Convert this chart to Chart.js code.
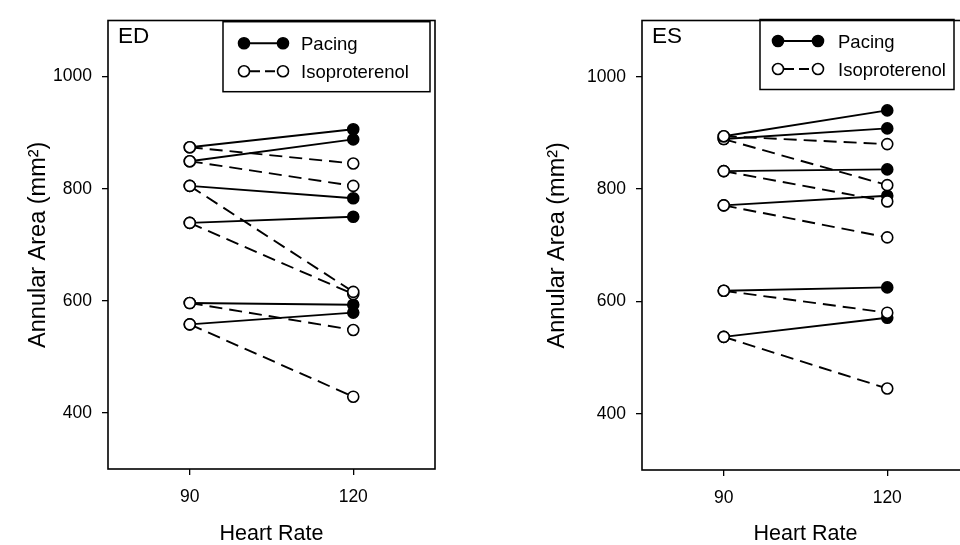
<!DOCTYPE html>
<html>
<head>
<meta charset="utf-8">
<title>Annular area vs heart rate</title>
<script src="https://cdn.jsdelivr.net/npm/chart.js@4.4.1/dist/chart.umd.min.js"></script>
<style>
  html, body { margin: 0; padding: 0; background: #fff; overflow: hidden; }
  body { width: 960px; height: 545px; position: relative; }
  canvas { position: absolute; top: 0; }
  #ed-chart { left: 0; }
  #es-chart { left: 480px; }
</style>
</head>
<body>
<canvas id="ed-chart" width="480" height="545"></canvas>
<canvas id="es-chart" width="500" height="545"></canvas>
<script>
// Heart rate categories and axis ticks
const heartRates = [90, 120];
const xTicks = [90, 120];
const yTicks = [400, 600, 800, 1000];

// ED panel - annular area (mm2), one entry per subject
const edBaseline = [874, 849, 805, 739, 596, 558];
const edPacing = [906, 888, 783, 750, 593, 579];
const edIso = [845, 805, 616, 612, 548, 429];

// ES panel
const esBaseline = [894, 889, 832, 771, 619, 537];
const esPacing = [940, 908, 835, 788, 625, 571];
const esIso = [880, 807, 778, 714, 580, 445];

const FONT = '"Liberation Sans", Arial, Helvetica, sans-serif';

// one iso (dashed) and one pacing (solid) line per subject
function buildDatasets(baseline, pacing, iso) {
  const sets = [];
  baseline.forEach((b, i) => {
    sets.push({
      label: 'Isoproterenol',
      data: [{ x: heartRates[0], y: b }, { x: heartRates[1], y: iso[i] }],
      borderColor: '#000',
      borderWidth: 1.9,
      borderDash: [13, 7],
      pointRadius: 5.5,
      pointBorderWidth: 1.6,
      pointBorderColor: '#000',
      pointBackgroundColor: ['#fff', '#fff']
    });
    sets.push({
      label: 'Pacing',
      data: [{ x: heartRates[0], y: b }, { x: heartRates[1], y: pacing[i] }],
      borderColor: '#000',
      borderWidth: 1.9,
      pointRadius: 5.5,
      pointBorderWidth: 1.6,
      pointBorderColor: '#000',
      pointBackgroundColor: ['#fff', '#000']
    });
  });
  return sets;
}

// frame, panel label and legend box
const panelDecor = {
  id: 'panelDecor',
  afterDraw(chart, args, opts) {
    const { ctx, chartArea: a } = chart;
    ctx.save();
    ctx.strokeStyle = '#000';
    ctx.fillStyle = '#000';
    ctx.lineWidth = 1.6;
    ctx.strokeRect(a.left, a.top, a.right - a.left, a.bottom - a.top);

    ctx.font = '22.5px ' + FONT;
    ctx.textBaseline = 'alphabetic';
    ctx.fillText(opts.label, a.left + 10, 43);

    const bx = a.left + opts.boxDx, by = opts.boxY, bw = opts.boxW, bh = 70;
    ctx.lineWidth = 1.5;
    ctx.strokeRect(bx, by, bw, bh);

    const rows = [
      { text: 'Pacing', y: by + 21.5, fill: '#000', dash: [] },
      { text: 'Isoproterenol', y: by + 49.5, fill: '#fff', dash: [10, 5] }
    ];
    rows.forEach(r => {
      const x1 = bx + opts.symX1, x2 = bx + opts.symX2;
      ctx.lineWidth = 1.9;
      ctx.setLineDash(r.dash);
      ctx.lineDashOffset = -6;
      ctx.beginPath();
      ctx.moveTo(x1, r.y);
      ctx.lineTo(x2, r.y);
      ctx.stroke();
      ctx.setLineDash([]);
      ctx.lineWidth = 1.6;
      [x1, x2].forEach(x => {
        ctx.beginPath();
        ctx.arc(x, r.y, 5.5, 0, Math.PI * 2);
        ctx.fillStyle = r.fill;
        ctx.fill();
        ctx.stroke();
      });
      ctx.fillStyle = '#000';
      ctx.font = '18.5px ' + FONT;
      ctx.fillText(r.text, bx + opts.textX, r.y + 7);
    });
    ctx.restore();
  }
};

function makeChart(id, datasets, layout) {
  return new Chart(document.getElementById(id), {
    type: 'line',
    data: { datasets },
    options: {
      responsive: false,
      animation: false,
      devicePixelRatio: 1,
      layout: { padding: { left: 0, top: layout.top, right: layout.right, bottom: 0 } },
      plugins: {
        legend: { display: false },
        tooltip: { enabled: false },
        panelDecor: layout.decor
      },
      scales: {
        x: {
          type: 'linear',
          min: 75,
          max: 135,
          afterBuildTicks: s => { s.ticks = xTicks.map(v => ({ value: v })); },
          afterFit: s => { s.height = layout.xHeight; },
          border: { display: false },
          grid: { drawOnChartArea: false, drawTicks: true, tickLength: 6, color: '#000', lineWidth: 1.3 },
          ticks: { color: '#000', padding: 12, font: { family: FONT, size: 17.5 }, callback: v => String(v) },
          title: {
            display: true, text: 'Heart Rate', color: '#000',
            font: { family: FONT, size: 21.5, lineHeight: 1 }, padding: { top: 0, bottom: 0 }
          }
        },
        y: {
          min: 300,
          max: 1100,
          afterBuildTicks: s => { s.ticks = yTicks.map(v => ({ value: v })); },
          afterFit: s => { s.width = layout.yWidth; },
          border: { display: false },
          grid: { drawOnChartArea: false, drawTicks: true, tickLength: 6, color: '#000', lineWidth: 1.3 },
          ticks: { color: '#000', padding: 10, font: { family: FONT, size: 17.5 }, callback: v => String(v) },
          title: {
            display: true, text: 'Annular Area (mm²)', color: '#000',
            font: { family: FONT, size: 23.5, lineHeight: 1 }, padding: { top: layout.titlePad, bottom: 0 }
          }
        }
      }
    },
    plugins: [panelDecor]
  });
}

makeChart('ed-chart', buildDatasets(edBaseline, edPacing, edIso), {
  top: 11, right: 45, xHeight: 76, yWidth: 108, titlePad: 27,
  decor: { label: 'ED', boxDx: 115, boxY: 21.7, boxW: 207, symX1: 21, symX2: 60, textX: 78 }
});

makeChart('es-chart', buildDatasets(esBaseline, esPacing, esIso), {
  top: 12, right: 11, xHeight: 75, yWidth: 162, titlePad: 66,
  decor: { label: 'ES', boxDx: 118, boxY: 19.5, boxW: 194, symX1: 18, symX2: 58, textX: 78 }
});
</script>
</body>
</html>
